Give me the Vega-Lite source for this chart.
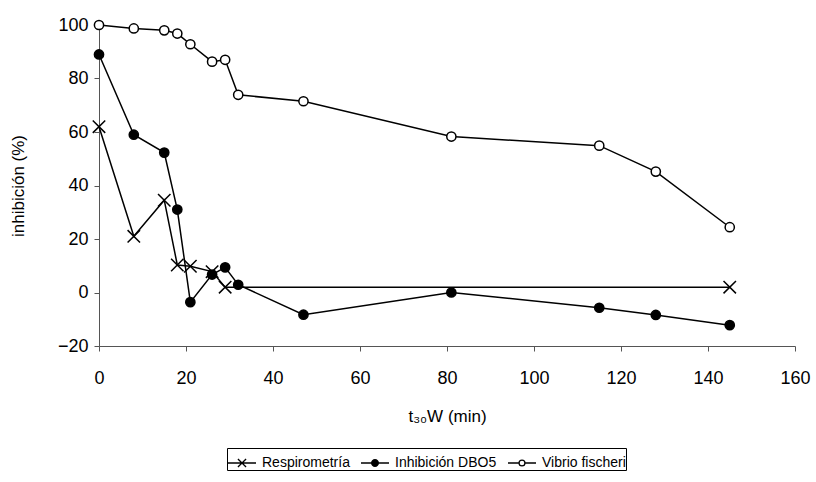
{
  "$schema": "https://vega.github.io/schema/vega-lite/v6.json",
  "width": 696,
  "height": 321,
  "autosize": {"type": "none"},
  "padding": {"left": 99, "top": 25, "right": 21, "bottom": 136},
  "background": "white",
  "data": {
    "values": [
      {"series": "Respirometría", "x": 0, "y": 62},
      {"series": "Respirometría", "x": 8, "y": 21},
      {"series": "Respirometría", "x": 15, "y": 34.5},
      {"series": "Respirometría", "x": 18, "y": 10.3},
      {"series": "Respirometría", "x": 21, "y": 9.8},
      {"series": "Respirometría", "x": 26, "y": 7.8},
      {"series": "Respirometría", "x": 29, "y": 2},
      {"series": "Respirometría", "x": 145, "y": 2},
      {"series": "Inhibición DBO5", "x": 0, "y": 89},
      {"series": "Inhibición DBO5", "x": 8, "y": 59},
      {"series": "Inhibición DBO5", "x": 15, "y": 52.3},
      {"series": "Inhibición DBO5", "x": 18, "y": 31},
      {"series": "Inhibición DBO5", "x": 21, "y": -3.6},
      {"series": "Inhibición DBO5", "x": 26, "y": 6.7},
      {"series": "Inhibición DBO5", "x": 29, "y": 9.4},
      {"series": "Inhibición DBO5", "x": 32, "y": 2.9},
      {"series": "Inhibición DBO5", "x": 47, "y": -8.3},
      {"series": "Inhibición DBO5", "x": 81, "y": 0},
      {"series": "Inhibición DBO5", "x": 115, "y": -5.7},
      {"series": "Inhibición DBO5", "x": 128, "y": -8.4},
      {"series": "Inhibición DBO5", "x": 145, "y": -12.2},
      {"series": "Vibrio fischeri", "x": 0, "y": 100},
      {"series": "Vibrio fischeri", "x": 8, "y": 98.7},
      {"series": "Vibrio fischeri", "x": 15, "y": 98},
      {"series": "Vibrio fischeri", "x": 18, "y": 96.8},
      {"series": "Vibrio fischeri", "x": 21, "y": 92.8},
      {"series": "Vibrio fischeri", "x": 26, "y": 86.3},
      {"series": "Vibrio fischeri", "x": 29, "y": 87},
      {"series": "Vibrio fischeri", "x": 32, "y": 73.9},
      {"series": "Vibrio fischeri", "x": 47, "y": 71.5},
      {"series": "Vibrio fischeri", "x": 81, "y": 58.3},
      {"series": "Vibrio fischeri", "x": 115, "y": 54.9},
      {"series": "Vibrio fischeri", "x": 128, "y": 45.2},
      {"series": "Vibrio fischeri", "x": 145, "y": 24.4}
    ]
  },
  "config": {
    "view": {"stroke": null},
    "font": "Liberation Sans",
    "axis": {
      "grid": false,
      "domainColor": "#555555",
      "tickColor": "#555555",
      "tickSize": 5,
      "labelColor": "black",
      "labelFontSize": 18,
      "titleFontSize": 17,
      "titleFontWeight": "normal",
      "titleColor": "black"
    }
  },
  "encoding": {
    "x": {
      "field": "x",
      "type": "quantitative",
      "scale": {"domain": [0, 160], "nice": false, "zero": false},
      "axis": {"values": [0, 20, 40, 60, 80, 100, 120, 140, 160], "title": "t₃₀W (min)", "labelPadding": 18, "titlePadding": 21, "labelFlush": false, "labelOverlap": false}
    },
    "y": {
      "field": "y",
      "type": "quantitative",
      "scale": {"domain": [-20, 100], "nice": false, "zero": false},
      "axis": {"values": [-20, 0, 20, 40, 60, 80, 100], "title": "inhibición (%)", "labelPadding": 6, "titlePadding": 30, "labelFlush": false, "labelOverlap": false}
    }
  },
  "layer": [
    {
      "mark": {"type": "line", "color": "black", "strokeWidth": 1.5},
      "encoding": {"detail": {"field": "series"}}
    },
    {
      "mark": {"type": "point", "filled": true, "stroke": "black", "strokeWidth": 1.5, "size": 85, "opacity": 1},
      "encoding": {
        "shape": {
          "field": "series",
          "scale": {
            "domain": ["Respirometría", "Inhibición DBO5", "Vibrio fischeri"],
            "range": ["M-1.35,-1.35L1.35,1.35M-1.35,1.35L1.35,-1.35", "circle", "circle"]
          },
          "legend": null
        },
        "fill": {
          "field": "series",
          "scale": {
            "domain": ["Respirometría", "Inhibición DBO5", "Vibrio fischeri"],
            "range": ["black", "black", "white"]
          },
          "legend": null
        }
      }
    },
    {
      "transform": [{"filter": "datum.x < -1000"}],
      "mark": {"type": "point", "filled": false, "color": "black", "strokeWidth": 1.3, "opacity": 1},
      "encoding": {
        "shape": {
          "field": "series",
          "scale": {
            "domain": ["Respirometría", "Inhibición DBO5", "Vibrio fischeri"],
            "range": [
              "M-1,0L1,0M-0.29,-0.29L0.29,0.29M-0.29,0.29L0.29,-0.29",
              "M-1,0L1,0M0.24,0A0.24,0.24 0 1 1 -0.24,0A0.24,0.24 0 1 1 0.24,0M0.17,0A0.17,0.17 0 1 1 -0.17,0A0.17,0.17 0 1 1 0.17,0M0.1,0A0.1,0.1 0 1 1 -0.1,0A0.1,0.1 0 1 1 0.1,0M0.04,0A0.04,0.04 0 1 1 -0.04,0A0.04,0.04 0 1 1 0.04,0",
              "M-1,0L-0.21,0M0.21,0L1,0M0.21,0A0.21,0.21 0 1 1 -0.21,0A0.21,0.21 0 1 1 0.21,0"
            ]
          },
          "legend": {
            "orient": "none",
            "legendX": 128,
            "legendY": 423,
            "direction": "horizontal",
            "columns": 3,
            "title": null,
            "strokeColor": "black",
            "padding": 0,
            "symbolSize": 784,
            "symbolStrokeWidth": 1.3,
            "symbolStrokeColor": "black",
            "labelFontSize": 14,
            "labelColor": "black",
            "labelLimit": 0,
            "labelOffset": 5,
            "columnPadding": 8
          }
        }
      }
    }
  ],
  "resolve": {"scale": {"shape": "independent", "fill": "independent"}}
}
